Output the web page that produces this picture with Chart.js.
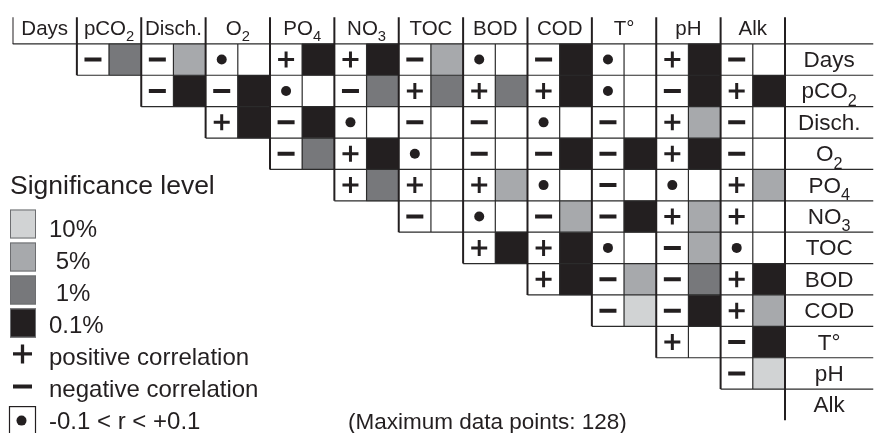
<!DOCTYPE html>
<html>
<head>
<meta charset="utf-8">
<script src="https://cdn.jsdelivr.net/npm/chart.js@4.4.0/dist/chart.umd.min.js"></script>
<style>
  html, body { margin: 0; padding: 0; background: #fff; overflow: hidden; }
  canvas { display: block; }
</style>
</head>
<body>
<canvas id="corr-chart" width="886" height="433"></canvas>
<script>
const variables = ['Days', 'pCO₂', 'Disch.', 'O₂', 'PO₄', 'NO₃', 'TOC', 'BOD', 'COD', 'T°', 'pH', 'Alk'];

// sign of r, row by row (row i holds the columns after variable i)
const signRows = [
  ['−', '−', '•', '+', '+', '−', '•', '−', '•', '+', '−'],
  ['−', '−', '•', '−', '+', '+', '+', '•', '−', '+'],
  ['+', '−', '•', '−', '−', '•', '−', '+', '−'],
  ['−', '+', '•', '−', '−', '−', '+', '−'],
  ['+', '+', '+', '•', '−', '•', '+'],
  ['−', '•', '−', '−', '+', '+'],
  ['+', '+', '•', '−', '•'],
  ['+', '−', '−', '+'],
  ['−', '−', '+'],
  ['+', '−'],
  ['−']
];

// significance level in %, null = not significant
const levelRows = [
  [1, 5, null, 0.1, 0.1, 5, null, 0.1, null, 0.1, null],
  [0.1, 0.1, null, 1, 1, 1, 0.1, null, 0.1, 0.1],
  [0.1, 0.1, null, null, null, null, null, 5, null],
  [1, 0.1, null, null, 0.1, 0.1, 0.1, null],
  [1, null, 5, null, null, null, 5],
  [null, null, 5, 0.1, 5, null],
  [0.1, 0.1, null, 5, null],
  [0.1, 5, 1, 0.1],
  [10, 0.1, 5],
  [null, 0.1],
  [10]
];

const levels = [10, 5, 1, 0.1];
const levelLabels = ['10%', ' 5%', ' 1%', '0.1%'];
const levelColors = ['#d1d3d4', '#a7a9ac', '#77787b', '#231f20'];
const signLabels = ['positive correlation', 'negative correlation', '-0.1 < r < +0.1'];
const maxPoints = 128;

const ink = '#231f20';
const nVar = variables.length;
const gridRight = 2 * nVar;        // each variable = sign cell + level cell
const xMax = gridRight + 2.75;     // plus the row label column
const headTop = 0.15;

// every cell of the triangle (white), then the coloured level cells
function allCells() {
  const out = [];
  levelRows.forEach((row, i) => row.forEach((lv, k) => {
    const j = i + 1 + k;
    out.push({ x: 2 * j + 0.5, y: [i + 1, i + 2] });
    out.push({ x: 2 * j + 1.5, y: [i + 1, i + 2] });
  }));
  return out;
}
function levelCells(level) {
  const out = [];
  levelRows.forEach((row, i) => row.forEach((lv, k) => {
    if (lv === level) out.push({ x: 2 * (i + 1 + k) + 1.5, y: [i + 1, i + 2] });
  }));
  return out;
}
function signCells(sign) {
  const out = [];
  signRows.forEach((row, i) => row.forEach((s, k) => {
    if (s === sign) out.push({ x: 2 * (i + 1 + k) + 0.5, y: i + 1.5 });
  }));
  return out;
}
function segments(list) {
  const pts = [];
  list.forEach(s => pts.push({ x: s[0], y: s[1] }, { x: s[2], y: s[3] }, { x: s[2], y: null }));
  return pts;
}

const thinLines = [[0, 1, xMax, 1]];
for (let i = 0; i < nVar - 1; i++) thinLines.push([2 * (i + 1), i + 2, xMax, i + 2]);
for (let j = 1; j < nVar; j++) thinLines.push([2 * j + 1, 1, 2 * j + 1, j + 1]);
const thickLines = [];
for (let j = 0; j <= nVar; j++) thickLines.push([2 * j, headTop, 2 * j, Math.max(1, j + 1)]);

const datasets = [
  { type: 'scatter', data: signCells('+'), pointStyle: 'cross', pointRadius: 8, borderWidth: 3,
    borderColor: ink, backgroundColor: ink, order: 1 },
  { type: 'scatter', data: signCells('−'), pointStyle: 'line', pointRadius: 8.5, borderWidth: 4,
    borderColor: ink, backgroundColor: ink, order: 1 },
  { type: 'scatter', data: signCells('•'), pointStyle: 'circle', pointRadius: 5, borderWidth: 0,
    borderColor: ink, backgroundColor: ink, order: 1 },
  { type: 'line', data: segments(thickLines), borderColor: ink, borderWidth: 2, pointRadius: 0, order: 2 },
  { type: 'line', data: segments(thinLines), borderColor: '#2b2b2b', borderWidth: 1.2, pointRadius: 0, order: 2 }
];
levels.forEach((lv, k) => datasets.push({
  type: 'bar', label: levelLabels[k], data: levelCells(lv), backgroundColor: levelColors[k], order: 3
}));
datasets.push({ type: 'bar', label: 'cells', data: allCells(), backgroundColor: '#ffffff', order: 4 });

const FONT = '"Liberation Sans", Arial, sans-serif';
const SUBS = '₀₁₂₃₄₅₆₇₈₉';

function drawText(ctx, text, x, base, size, centered) {
  const runs = [];
  for (const ch of text) {
    const k = SUBS.indexOf(ch);
    const sub = k >= 0;
    const c = sub ? String(k) : ch;
    const last = runs[runs.length - 1];
    if (last && last.sub === sub) last.t += c; else runs.push({ t: c, sub: sub });
  }
  let w = 0;
  runs.forEach(r => {
    ctx.font = (r.sub ? size * 0.72 : size) + 'px ' + FONT;
    r.w = ctx.measureText(r.t).width;
    w += r.w;
  });
  let cx = centered ? x - w / 2 : x;
  runs.forEach(r => {
    ctx.font = (r.sub ? size * 0.72 : size) + 'px ' + FONT;
    ctx.fillText(r.t, cx, r.sub ? base + size * 0.33 : base);
    cx += r.w;
  });
}

const labelsPlugin = {
  id: 'matrixLabels',
  afterDraw(chart) {
    const ctx = chart.ctx;
    const xs = chart.scales.x, ys = chart.scales.y;
    ctx.save();
    ctx.fillStyle = ink;
    ctx.textAlign = 'left';
    ctx.textBaseline = 'alphabetic';
    variables.forEach((v, j) => {
      drawText(ctx, v, xs.getPixelForValue(2 * j + 1), ys.getPixelForValue(0.5) + 6.5, 20.5, true);
      drawText(ctx, v, xs.getPixelForValue((gridRight + xMax) / 2), ys.getPixelForValue(j + 1.5) + 7.5, 22.5, true);
    });

    // legend
    drawText(ctx, 'Significance level', 10, 194, 26.5, false);
    const step = 32.1;
    levelLabels.forEach((lab, k) => {
      const top = 209.5 + 33 * k;
      ctx.fillStyle = levelColors[k];
      ctx.fillRect(10, top, 26, 29);
      ctx.strokeStyle = '#6d6e71';
      ctx.lineWidth = 1;
      ctx.strokeRect(10.5, top + 0.5, 25, 28);
      ctx.fillStyle = ink;
      drawText(ctx, lab, 49, 236.5 + step * k, 24, false);
    });
    const b0 = 236.5 + step * 4;
    ctx.strokeStyle = ink;
    ctx.lineWidth = 3.3;
    ctx.beginPath();
    ctx.moveTo(13, b0 - 11); ctx.lineTo(32, b0 - 11);
    ctx.moveTo(22.5, b0 - 20.5); ctx.lineTo(22.5, b0 - 1.5);
    ctx.stroke();
    ctx.lineWidth = 4;
    ctx.beginPath();
    ctx.moveTo(13, b0 + step - 10.5); ctx.lineTo(32, b0 + step - 10.5);
    ctx.stroke();
    ctx.lineWidth = 1.2;
    ctx.strokeRect(9.5, b0 + 2 * step - 22.5, 26, 28);
    ctx.beginPath();
    ctx.arc(21.5, b0 + 2 * step - 8.5, 5, 0, Math.PI * 2);
    ctx.fill();
    signLabels.forEach((lab, k) => drawText(ctx, lab, 49, b0 + step * k, 24, false));
    drawText(ctx, '(Maximum data points: ' + maxPoints + ')', 348, b0 + 2 * step, 22.5, false);
    ctx.restore();
  }
};

new Chart(document.getElementById('corr-chart'), {
  type: 'bar',
  data: { datasets: datasets },
  options: {
    responsive: false,
    animation: false,
    devicePixelRatio: 1,
    events: [],
    layout: { padding: { left: 10, top: 5, right: 0, bottom: 0 } },
    datasets: {
      bar: { grouped: false, barPercentage: 1, categoryPercentage: 1, borderWidth: 0 },
      line: { tension: 0, fill: false, spanGaps: false }
    },
    plugins: { legend: { display: false }, tooltip: { enabled: false } },
    scales: {
      x: { type: 'linear', min: 0, max: xMax, bounds: 'data', display: false, offset: false,
           ticks: { stepSize: 1, includeBounds: false } },
      y: { type: 'linear', min: 0, max: nVar + 1, reverse: true, display: false }
    }
  },
  plugins: [labelsPlugin]
});
</script>
</body>
</html>
